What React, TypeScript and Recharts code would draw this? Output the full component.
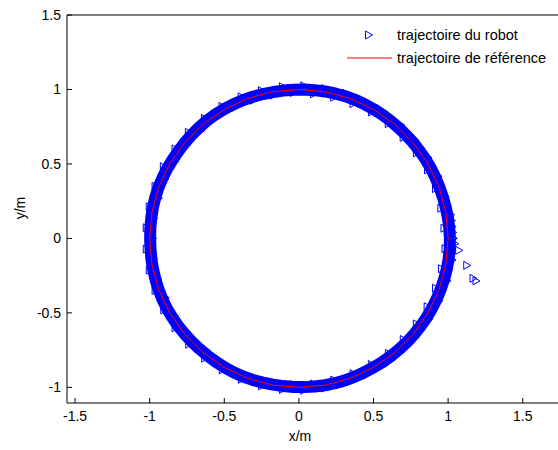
import React from 'react';
import {
  ScatterChart,
  Scatter,
  XAxis,
  YAxis,
} from 'recharts';

// cercle de référence (rayon 1), points tous les 10°
const refX = [1, 0.985, 0.94, 0.866, 0.766, 0.643, 0.5, 0.342, 0.174, 0, -0.174, -0.342, -0.5, -0.643, -0.766, -0.866, -0.94, -0.985, -1, -0.985, -0.94, -0.866, -0.766, -0.643, -0.5, -0.342, -0.174, 0, 0.174, 0.342, 0.5, 0.643, 0.766, 0.866, 0.94, 0.985, 1];
const refY = [0, 0.174, 0.342, 0.5, 0.643, 0.766, 0.866, 0.94, 0.985, 1, 0.985, 0.94, 0.866, 0.766, 0.643, 0.5, 0.342, 0.174, 0, -0.174, -0.342, -0.5, -0.643, -0.766, -0.866, -0.94, -0.985, -1, -0.985, -0.94, -0.866, -0.766, -0.643, -0.5, -0.342, -0.174, 0];

// départ du robot, hors du cercle
const startX = [1.19, 1.17, 1.128, 1.074, 1.048, 1.038, 1.034, 1.03, 1.026, 1.02];
const startY = [-0.285, -0.268, -0.181, -0.08, -0.035, 0.0, 0.04, 0.08, 0.12, 0.16];

// régime établi : angle (deg) commun aux deux tours
const robotAngle = [
  0, 4, 8, 12, 16, 20, 24, 28, 32, 36, 40, 44, 48, 52, 56, 60, 64, 68, 72, 76,
  80, 84, 88, 92, 96, 100, 104, 108, 112, 116, 120, 124, 128, 132, 136, 140, 144, 148, 152, 156,
  160, 164, 168, 172, 176, 180, 184, 188, 192, 196, 200, 204, 208, 212, 216, 220, 224, 228, 232, 236,
  240, 244, 248, 252, 256, 260, 264, 268, 272, 276, 280, 284, 288, 292, 296, 300, 304, 308, 312, 316,
  320, 324, 328, 332, 336, 340, 344, 348, 352, 356, 360,
];
// premier tour : rayon proche de 1
const lapARadius = [
  1.012, 1.01, 1.008, 1.006, 1.004, 1.003, 1.002, 1.002, 1.001, 1.0, 1.0, 0.999, 0.999, 1.0, 1.001, 1.002, 1.003, 1.004, 1.004, 1.003,
  1.002, 1.001, 1.0, 0.999, 0.998, 0.998, 0.999, 1.0, 1.001, 1.002, 1.003, 1.003, 1.002, 1.001, 1.0, 0.999, 0.998, 0.998, 0.999, 1.0,
  1.001, 1.001, 1.0, 0.999, 0.998, 0.997, 0.997, 0.998, 0.999, 1.0, 1.001, 1.002, 1.002, 1.001, 1.0, 0.999, 0.998, 0.997, 0.997, 0.998,
  0.999, 1.0, 1.0, 0.999, 0.998, 0.997, 0.997, 0.998, 0.999, 1.0, 1.001, 1.002, 1.002, 1.001, 1.0, 1.0, 1.001, 1.002, 1.003, 1.004,
  1.005, 1.006, 1.007, 1.008, 1.009, 1.01, 1.011, 1.012, 1.013, 1.013, 1.012,
];
// tours suivants : oscillation autour du cercle
const lapBRadius = [
  1.03, 0.978, 1.025, 0.976, 1.022, 0.978, 1.025, 0.98, 1.024, 0.977, 1.022, 0.976, 1.025, 0.978, 1.024, 0.98, 1.022, 0.976, 1.025, 0.977,
  1.022, 0.976, 1.025, 0.98, 1.024, 0.977, 1.022, 0.976, 1.025, 0.977, 1.024, 0.98, 1.022, 0.976, 1.025, 0.977, 1.022, 0.976, 1.025, 0.98,
  1.022, 0.976, 1.022, 0.98, 1.022, 0.976, 1.022, 0.98, 1.022, 0.98, 1.022, 0.977, 1.022, 0.98, 1.022, 0.977, 1.022, 0.98, 1.02, 0.98,
  1.02, 0.98, 1.02, 0.982, 1.02, 0.982, 1.02, 0.982, 1.02, 0.982, 1.02, 0.98, 1.022, 0.98, 1.024, 0.978, 1.025, 0.98, 1.025, 0.977,
  1.026, 0.977, 1.028, 0.977, 1.03, 0.978, 1.035, 0.98, 1.04, 0.985, 1.035,
];

const xTicks = [-1.5, -1, -0.5, 0, 0.5, 1, 1.5];
const yTicks = [-1, -0.5, 0, 0.5, 1, 1.5];

const toXY = (radius: number[]) =>
  robotAngle.map((a, i) => ({
    x: radius[i] * Math.cos((a * Math.PI) / 180),
    y: radius[i] * Math.sin((a * Math.PI) / 180),
  }));

const refData = refX.map((x, i) => ({ x, y: refY[i] }));
const startData = startX.map((x, i) => ({ x, y: startY[i] }));
const lapA = toXY(lapARadius);
const lapB = toXY(lapBRadius);

const BLUE = '#0000ff';
const RED = '#ff0000';
const FONT = '"Liberation Sans", Arial, sans-serif';

// marqueur '>' façon matlab
const Triangle = (props: any) => {
  const { cx, cy } = props;
  if (cx == null || cy == null) return <g />;
  return (
    <path
      d={`M${cx + 3.5},${cy} L${cx - 3.5},${cy - 4} L${cx - 3.5},${cy + 4} Z`}
      fill="none"
      stroke={BLUE}
      strokeWidth={1}
    />
  );
};

const NoDot = () => <g />;

const tickStyle = { fontSize: 14, fontFamily: FONT, fill: '#000' };
const axisStroke = { stroke: '#000', strokeWidth: 1 };

export default function App() {
  return (
    <div
      style={{
        position: 'absolute',
        left: 0,
        top: 0,
        width: 558,
        height: 450,
        overflow: 'hidden',
        background: '#fff',
      }}
    >
      <ScatterChart
        width={560}
        height={450}
        margin={{ top: 14, right: 0, bottom: 0, left: 0 }}
      >
        <XAxis
          xAxisId="b"
          type="number"
          dataKey="x"
          domain={[-1.554, 1.743]}
          ticks={xTicks}
          allowDataOverflow
          height={47}
          tickSize={-5}
          tickMargin={13}
          tick={tickStyle}
          axisLine={axisStroke}
          tickLine={axisStroke}
        />
        <XAxis
          xAxisId="t"
          orientation="top"
          type="number"
          dataKey="x"
          domain={[-1.554, 1.743]}
          ticks={xTicks}
          allowDataOverflow
          height={1}
          tickSize={-5}
          tick={false}
          axisLine={axisStroke}
          tickLine={axisStroke}
        />
        <YAxis
          yAxisId="l"
          type="number"
          dataKey="y"
          domain={[-1.105, 1.5]}
          ticks={yTicks}
          allowDataOverflow
          width={67}
          tickSize={-5}
          tickMargin={11}
          tick={tickStyle}
          axisLine={axisStroke}
          tickLine={axisStroke}
        />
        <YAxis
          yAxisId="r"
          orientation="right"
          type="number"
          dataKey="y"
          domain={[-1.105, 1.5]}
          ticks={yTicks}
          allowDataOverflow
          width={1}
          tickSize={-5}
          tick={false}
          axisLine={axisStroke}
          tickLine={axisStroke}
        />

        {/* trajectoire du robot : tour principal, trait épais */}
        <Scatter
          name="trajectoire du robot"
          xAxisId="b"
          yAxisId="l"
          data={lapA}
          fill={BLUE}
          line={{ stroke: BLUE, strokeWidth: 12, strokeLinejoin: 'round' }}
          shape={<Triangle />}
          isAnimationActive={false}
        />
        {/* tours suivants, marqueurs seuls */}
        <Scatter
          name="tours suivants"
          xAxisId="b"
          yAxisId="l"
          data={lapB}
          fill={BLUE}
          shape={<Triangle />}
          isAnimationActive={false}
        />
        <Scatter
          name="départ"
          xAxisId="b"
          yAxisId="l"
          data={startData}
          fill={BLUE}
          shape={<Triangle />}
          isAnimationActive={false}
        />

        {/* trajectoire de référence */}
        <Scatter
          name="trajectoire de référence"
          xAxisId="b"
          yAxisId="l"
          data={refData}
          fill={RED}
          line={{ stroke: RED, strokeWidth: 1 }}
          shape={<NoDot />}
          isAnimationActive={false}
        />
      </ScatterChart>

      {/* légende */}
      <svg
        width={220}
        height={50}
        style={{ position: 'absolute', left: 340, top: 20 }}
      >
        <path d="M32.5,15 L25.5,11 L25.5,19 Z" fill="none" stroke={BLUE} strokeWidth={1} />
        <text x={57} y={20} fontSize={14.5} fontFamily={FONT} fill="#000">
          trajectoire du robot
        </text>
        <line x1={7} y1={38} x2={52} y2={38} stroke={RED} strokeWidth={1} />
        <text x={57} y={43} fontSize={14.5} fontFamily={FONT} fill="#000">
          trajectoire de référence
        </text>
      </svg>

      <div
        style={{
          position: 'absolute',
          left: 280,
          top: 428,
          width: 40,
          textAlign: 'center',
          fontFamily: FONT,
          fontSize: 14,
          lineHeight: '16px',
        }}
      >
        x/m
      </div>
      <div
        style={{
          position: 'absolute',
          left: 0,
          top: 200,
          width: 40,
          textAlign: 'center',
          fontFamily: FONT,
          fontSize: 14,
          lineHeight: '16px',
          transform: 'rotate(-90deg)',
        }}
      >
        y/m
      </div>
    </div>
  );
}
